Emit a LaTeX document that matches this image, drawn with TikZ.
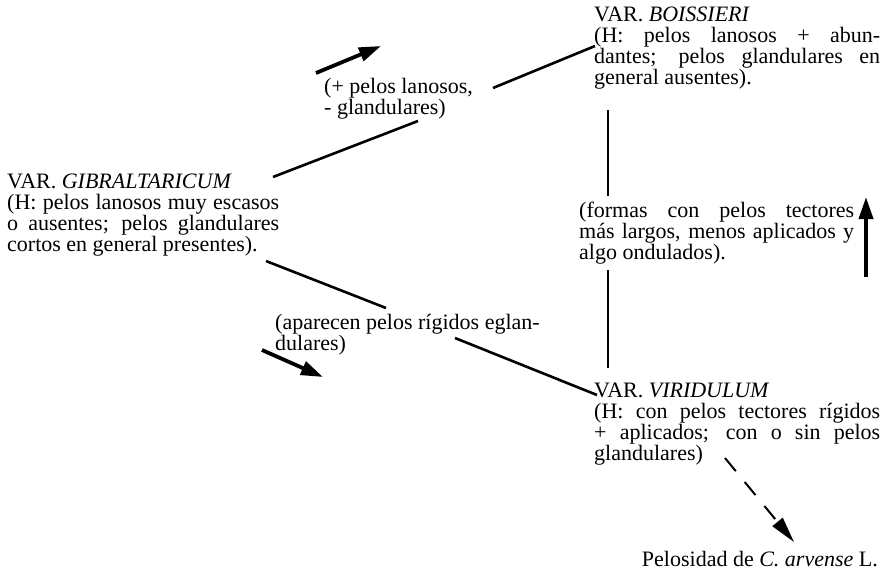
\documentclass[tikz,border=0pt]{standalone}
\usepackage{fontspec}
\setmainfont{Liberation Serif}
\usetikzlibrary{arrows.meta}
\newcommand{\blkfont}{\fontsize{22}{21}\selectfont\parindent=0pt\parskip=0pt\hyphenpenalty=10000\relax}
\newcommand{\lblfont}{\fontsize{22}{21}\selectfont}
\newcommand{\plusfont}{\fontsize{22}{19.5}\selectfont}
\begin{document}
\begin{tikzpicture}[x=1pt,y=-1pt,
  txt/.style={inner sep=0pt, anchor=north west, font=\lblfont},
  blk/.style={txt, font=\blkfont, align=justify, text width=#1},
  lbl/.style={txt, align=left},
  conn/.style={line width=2.6pt},
  bigarrow/.style={line width=3.8pt, -{Triangle[length=22pt,width=14pt]}},
  dasharrow/.style={line width=2pt, dash pattern=on 17pt off 14pt,
    -{Triangle[length=26pt,width=13pt]}},
]
\useasboundingbox (0,0) rectangle (885,573);

% text blocks
\node[blk=272pt] (gib) at (7,174)
  {VAR. \textit{GIBRALTARICUM}\par
   (H: pelos lanosos muy escasos\linebreak
   o ausentes; pelos glandulares\linebreak
   cortos en general presentes).};
\node[blk=286pt] (boi) at (594,7)
  {VAR. \textit{BOISSIERI}\par
   (H: pelos lanosos + abun-\linebreak
   dantes; pelos glandulares en\linebreak
   general ausentes).};
\node[blk=286pt] (vir) at (594,383)
  {VAR. \textit{VIRIDULUM}\par
   (H: con pelos tectores rígidos\linebreak
   + aplicados; con o sin pelos\linebreak
   glandulares)};
\node[blk=275pt] (formas) at (579,202)
  {(formas con pelos tectores\linebreak
   más largos, menos aplicados y\linebreak
   algo ondulados).};
\node[lbl, font=\plusfont] (plus) at (324,78) {(+ pelos lanosos,\\{-} glandulares)};
\node[lbl] (apar) at (275,314) {(aparecen pelos rígidos eglan-\\dulares)};
\node[txt, anchor=north east] (pel) at (878,551)
  {Pelosidad de \textit{C. arvense} L.};

% connector: GIBRALTARICUM -- BOISSIERI
\coordinate (gb1) at (273,177);
\coordinate (gb2) at (418,121);
\coordinate (gb3) at (493,88);
\coordinate (gb4) at (595,46);
\draw[conn] (gb1) -- (gb2);
\draw[conn] (gb3) -- (gb4);

% connector: GIBRALTARICUM -- VIRIDULUM
\coordinate (gv1) at (266,261);
\coordinate (gv2) at (386,308);
\coordinate (gv3) at (455,338);
\coordinate (gv4) at (597,395);
\draw[conn] (gv1) -- (gv2);
\draw[conn] (gv3) -- (gv4);

% connector: BOISSIERI -- VIRIDULUM
\coordinate (bv1) at (608,110);
\coordinate (bv2) at (608,196);
\coordinate (bv3) at (608,270);
\coordinate (bv4) at (608,368);
\draw[conn] (bv1) -- (bv2);
\draw[conn] (bv3) -- (bv4);

% direction arrows
\coordinate (a1s) at (316,73);
\coordinate (a1e) at (381,46);
\draw[bigarrow] (a1s) -- (a1e);
\coordinate (a2s) at (262,350);
\coordinate (a2e) at (323,377);
\draw[bigarrow] (a2s) -- (a2e);
\coordinate (a3s) at (866,277);
\coordinate (a3e) at (866,197);
\draw[bigarrow] (a3s) -- (a3e);

% dashed arrow to C. arvense
\coordinate (d1) at (725,458);
\coordinate (d2) at (794,542);
\draw[dasharrow] (d1) -- (d2);
\end{tikzpicture}
\end{document}
